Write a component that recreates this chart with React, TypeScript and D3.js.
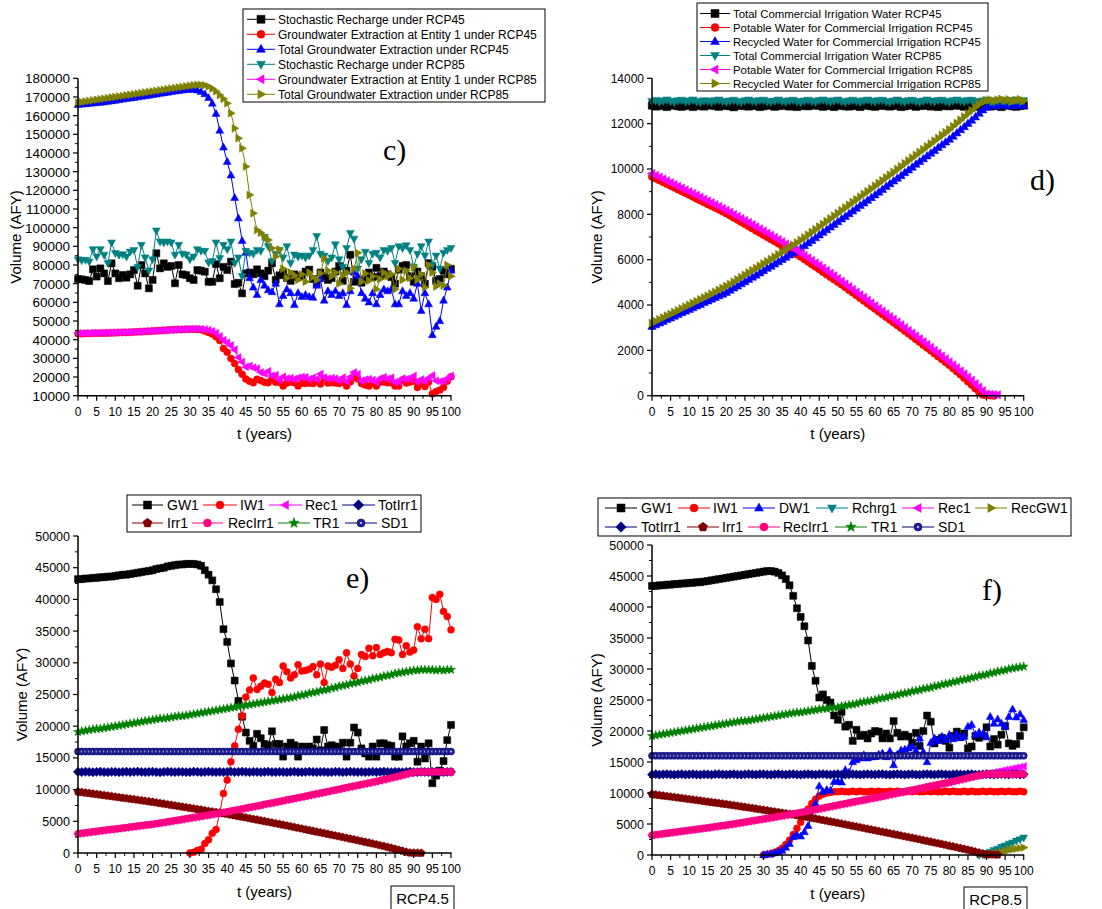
import React from 'react';
import * as d3 from 'd3';

// Simulation years 0..100; every series below holds one value per year,
// in thousand acre-feet per year (null = no value reported that year).
const years = d3.range(0, 101);
const KAF = 1000;

// Tick labels
const xTicks = [0, 5, 10, 15, 20, 25, 30, 35, 40, 45, 50, 55, 60, 65, 70, 75, 80, 85, 90, 95, 100];
const yTicksC = [10000, 20000, 30000, 40000, 50000, 60000, 70000, 80000, 90000, 100000, 110000, 120000, 130000, 140000, 150000, 160000, 170000, 180000];
const yTicksD = [0, 2000, 4000, 6000, 8000, 10000, 12000, 14000];
const yTicksEF = [0, 5000, 10000, 15000, 20000, 25000, 30000, 35000, 40000, 45000, 50000];

// Stochastic recharge
const rechargeRcp45 = [
  72.5, 72.3, 72.0, 71.4, 77.7, 73.8, 78.2, 75.5, 71.4, 80.9,
  75.5, 72.9, 74.7, 73.2, 75.0, 77.3, 68.9, 80.0, 75.5, 67.5,
  72.0, 86.3, 78.2, 80.9, 79.0, 79.5, 70.2, 80.0, 75.0, 74.6,
  72.9, 72.0, 77.3, 77.0, 76.4, 71.0, 71.0, 80.5, 72.9, 79.0,
  77.3, 81.8, 69.8, 70.5, 64.8, 75.5, 76.0, 75.0, 77.7, 75.5,
  74.0, 77.0, 80.9, 72.0, 74.5, 76.0, 73.0, 71.5, 75.0, 73.5,
  74.0, 76.5, 77.5, 72.5, 70.0, 76.0, 74.0, 72.0, 73.0, 76.5,
  79.5, 71.5, 77.0, 85.5, 71.0, 72.0, 70.5, 72.5, 76.0, 73.5,
  78.5, 74.0, 76.5, 75.0, 73.5, 70.0, 77.5, 79.5, 80.0, 74.0,
  71.0, 76.5, 74.0, 70.0, 81.0, 79.0, 71.5, 72.5, 77.0, 75.0,
  78.0,
];
const rechargeRcp85 = [
  83.0, 82.5, 82.7, 81.8, 88.4, 84.5, 88.4, 85.4, 81.0, 92.0,
  86.3, 85.4, 85.7, 84.5, 87.1, 88.0, 78.8, 90.7, 84.0, 77.0,
  83.0, 98.4, 92.5, 92.0, 92.5, 92.0, 85.4, 90.7, 86.0, 85.5,
  83.0, 84.5, 88.4, 87.5, 87.5, 81.3, 82.0, 92.0, 83.6, 90.7,
  88.4, 92.5, 81.0, 84.0, 74.0, 87.5, 86.5, 86.0, 88.0, 87.5,
  95.0, 90.0, 82.0, 86.0, 88.0, 84.0, 90.0, 81.0, 85.5, 84.5,
  85.0, 84.0, 85.0, 88.0, 95.5, 86.0, 85.0, 82.0, 84.0, 91.0,
  83.0, 79.0, 89.0, 97.0, 94.0, 78.0, 83.0, 87.0, 81.0, 86.0,
  86.5, 84.0, 88.0, 87.5, 89.0, 81.0, 90.0, 89.0, 90.5, 88.0,
  79.0, 86.0, 90.0, 85.0, 92.5, 80.0, 85.0, 78.0, 86.5, 88.0,
  89.0,
];

// Total groundwater extraction
const totalGwRcp45 = [
  165.8, 166.0, 166.2, 166.4, 166.6, 166.8, 167.0, 167.2, 167.5, 167.8,
  168.1, 168.4, 168.7, 169.0, 169.3, 169.6, 169.9, 170.2, 170.5, 170.8,
  171.1, 171.4, 171.8, 172.1, 172.4, 172.7, 173.0, 173.3, 173.6, 173.8,
  174.0, 174.0, 173.6, 172.8, 171.5, 169.5, 166.5, 161.0, 152.0, 143.0,
  135.3, 128.0, 116.0, 105.0, 93.0, 86.6, 73.0, 68.0, 64.0, 72.0,
  69.0, 66.5, 65.5, 70.0, 59.0, 63.5, 67.0, 65.0, 58.6, 65.0,
  63.0, 64.0, 63.0, 62.5, 69.0, 72.5, 61.0, 66.0, 64.0, 66.0,
  63.5, 65.0, 58.6, 66.0, 76.0, 74.0, 65.0, 62.0, 60.0, 65.0,
  59.0, 64.0, 67.0, 66.0, 67.0, 59.0, 59.0, 66.0, 63.5, 65.0,
  62.0, 70.0, 55.5, 65.0, 59.0, 42.5, 47.0, 50.0, 61.0, 68.0,
  77.0,
];
const totalGwRcp85 = [
  167.0, 167.3, 167.6, 167.9, 168.2, 168.5, 168.8, 169.1, 169.4, 169.7,
  170.0, 170.3, 170.6, 170.9, 171.2, 171.5, 171.8, 172.1, 172.4, 172.7,
  173.0, 173.3, 173.6, 173.9, 174.2, 174.5, 174.8, 175.1, 175.4, 175.7,
  176.0, 176.3, 176.5, 176.5, 176.3, 175.6, 174.5, 173.0, 171.0, 169.0,
  166.6, 161.3, 153.2, 147.9, 142.5, 132.7, 117.5, 107.7, 98.7, 97.3,
  95.2, 93.4, 89.0, 84.5, 88.4, 78.0, 73.0, 76.0, 74.5, 72.0,
  75.0, 71.0, 76.0, 73.5, 72.0, 75.5, 83.5, 77.0, 74.0, 76.0,
  70.0, 74.5, 76.0, 67.5, 78.0, 86.5, 71.0, 75.5, 71.5, 74.0,
  67.0, 72.5, 76.0, 74.0, 75.0, 67.0, 78.0, 72.0, 77.0, 73.0,
  79.0, 72.0, 75.0, 68.0, 80.0, 76.0, 68.5, 70.0, 69.0, 80.0,
  74.0,
];

// Groundwater extraction at entity 1 (GW1)
const gw1Rcp45 = [
  43.2, 43.2, 43.3, 43.3, 43.4, 43.4, 43.5, 43.5, 43.6, 43.6,
  43.7, 43.8, 43.9, 43.9, 44.0, 44.1, 44.2, 44.3, 44.4, 44.5,
  44.6, 44.8, 44.9, 45.0, 45.2, 45.3, 45.4, 45.5, 45.5, 45.6,
  45.6, 45.6, 45.5, 45.3, 44.6, 43.9, 43.0, 41.6, 39.6, 35.3,
  33.3, 29.9, 27.2, 24.0, 21.5, 19.0, 17.7, 16.9, 18.8, 18.1,
  17.2, 17.0, 19.2, 17.2, 17.2, 15.2, 16.8, 17.4, 17.0, 15.2,
  16.8, 16.6, 16.8, 16.5, 17.9, 16.2, 19.4, 16.8, 17.0, 16.8,
  16.5, 17.4, 15.2, 17.4, 19.8, 19.0, 16.5, 15.7, 15.2, 16.8,
  15.2, 17.3, 17.3, 17.0, 16.9, 15.2, 15.2, 18.4, 16.8, 17.3,
  17.7, 14.4, 16.8, 14.9, 17.3, 11.0, 12.2, 13.0, 14.5, 17.8,
  20.2,
];
const gw1Rcp85 = [
  43.4, 43.4, 43.5, 43.5, 43.6, 43.6, 43.7, 43.7, 43.8, 43.8,
  43.9, 43.9, 44.0, 44.0, 44.1, 44.2, 44.3, 44.4, 44.5, 44.6,
  44.7, 44.8, 44.9, 45.0, 45.1, 45.2, 45.3, 45.4, 45.5, 45.6,
  45.7, 45.8, 45.8, 45.7, 45.5, 45.1, 44.5, 43.5, 41.8, 39.8,
  38.4, 36.9, 34.6, 30.5, 28.1, 25.4, 25.9, 25.0, 24.6, 22.5,
  21.8, 23.1, 20.7, 21.0, 18.4, 20.2, 19.2, 19.4, 18.8, 19.6,
  20.0, 19.9, 18.8, 19.6, 18.8, 21.6, 19.7, 19.1, 19.4, 19.1,
  18.1, 19.7, 17.6, 20.0, 22.5, 21.5, 18.0, 18.6, 18.9, 18.4,
  17.3, 19.2, 19.9, 19.0, 19.6, 17.2, 17.5, 19.2, 18.9, 19.2,
  20.6, 17.5, 18.7, 17.8, 19.4, 20.8, 18.0, 17.6, 17.9, 19.2,
  20.6,
];

// Commercial irrigation: total, potable and recycled supply
const irrTotRcp45 = [
  12.80, 12.76, 12.82, 12.78, 12.74, 12.80, 12.83, 12.77, 12.75, 12.81,
  12.79, 12.74, 12.78, 12.82, 12.76, 12.80, 12.84, 12.78, 12.75, 12.79,
  12.82, 12.77, 12.73, 12.79, 12.83, 12.78, 12.76, 12.81, 12.79, 12.74,
  12.77, 12.82, 12.80, 12.75, 12.78, 12.83, 12.79, 12.76, 12.80, 12.74,
  12.78, 12.82, 12.77, 12.80, 12.84, 12.79, 12.75, 12.81, 12.78, 12.74,
  12.79, 12.83, 12.77, 12.76, 12.81, 12.78, 12.74, 12.80, 12.82, 12.77,
  12.75, 12.79, 12.83, 12.78, 12.76, 12.81, 12.79, 12.74, 12.77, 12.82,
  12.80, 12.75, 12.78, 12.83, 12.79, 12.76, 12.80, 12.74, 12.78, 12.82,
  12.77, 12.80, 12.84, 12.79, 12.75, 12.81, 12.78, 12.74, 12.79, 12.83,
  12.77, 12.76, 12.81, 12.78, 12.74, 12.80, 12.82, 12.77, 12.75, 12.79,
  12.80,
];
const irrTotRcp85 = [
  12.98, 13.03, 12.96, 13.01, 13.05, 12.99, 12.95, 13.02, 13.04, 12.97,
  13.00, 13.05, 12.98, 12.95, 13.02, 13.00, 12.96, 13.03, 13.05, 12.99,
  12.96, 13.01, 13.04, 12.98, 12.95, 13.02, 13.05, 13.00, 12.97, 13.03,
  13.04, 12.98, 12.96, 13.01, 13.05, 12.99, 12.96, 13.02, 13.04, 12.98,
  12.95, 13.01, 13.04, 12.99, 12.96, 13.03, 13.05, 13.00, 12.97, 13.02,
  13.05, 12.98, 12.95, 13.01, 13.04, 12.99, 12.96, 13.02, 13.05, 13.00,
  12.97, 13.03, 13.04, 12.98, 12.95, 13.01, 13.05, 12.99, 12.96, 13.02,
  13.04, 12.98, 12.96, 13.01, 13.05, 13.00, 12.97, 13.03, 13.04, 12.99,
  12.95, 13.02, 13.05, 13.00, 12.97, 13.03, 13.04, 12.98, 12.96, 13.01,
  13.05, 12.99, 12.96, 13.02, 13.04, 13.00, 12.97, 13.03, 13.05, 12.98,
  13.02,
];
const potableRcp45 = [
  9.66, 9.58, 9.50, 9.42, 9.34, 9.26, 9.18, 9.10, 9.02, 8.94,
  8.86, 8.78, 8.69, 8.61, 8.53, 8.45, 8.37, 8.29, 8.21, 8.12,
  8.04, 7.95, 7.85, 7.76, 7.66, 7.57, 7.47, 7.38, 7.28, 7.19,
  7.09, 7.00, 6.90, 6.81, 6.71, 6.61, 6.52, 6.42, 6.32, 6.23,
  6.13, 6.02, 5.91, 5.80, 5.69, 5.58, 5.46, 5.35, 5.24, 5.13,
  5.01, 4.90, 4.78, 4.66, 4.55, 4.43, 4.31, 4.19, 4.07, 3.95,
  3.83, 3.71, 3.59, 3.47, 3.35, 3.23, 3.11, 2.99, 2.86, 2.74,
  2.62, 2.49, 2.37, 2.24, 2.12, 1.99, 1.86, 1.73, 1.61, 1.48,
  1.35, 1.21, 1.07, 0.93, 0.78, 0.63, 0.48, 0.32, 0.16, 0.04,
  0.02, 0.01, 0.00, null, null, null, null, null, null, null,
  null,
];
const potableRcp85 = [
  9.80, 9.72, 9.64, 9.56, 9.48, 9.40, 9.32, 9.24, 9.16, 9.08,
  9.00, 8.92, 8.84, 8.76, 8.67, 8.59, 8.51, 8.43, 8.35, 8.26,
  8.18, 8.09, 8.00, 7.91, 7.82, 7.73, 7.64, 7.55, 7.45, 7.36,
  7.27, 7.17, 7.08, 6.98, 6.89, 6.79, 6.69, 6.59, 6.50, 6.40,
  6.30, 6.19, 6.08, 5.97, 5.86, 5.75, 5.63, 5.52, 5.40, 5.29,
  5.17, 5.05, 4.93, 4.81, 4.69, 4.57, 4.45, 4.33, 4.21, 4.09,
  3.97, 3.85, 3.73, 3.61, 3.49, 3.37, 3.25, 3.13, 3.00, 2.88,
  2.76, 2.63, 2.51, 2.38, 2.26, 2.13, 2.00, 1.88, 1.75, 1.62,
  1.49, 1.36, 1.23, 1.09, 0.96, 0.82, 0.68, 0.53, 0.38, 0.22,
  0.08, 0.06, 0.05, 0.04, null, null, null, null, null, null,
  null,
];
const recycledRcp45 = [
  3.05, 3.12, 3.20, 3.27, 3.35, 3.42, 3.50, 3.57, 3.65, 3.72,
  3.80, 3.87, 3.95, 4.02, 4.10, 4.17, 4.25, 4.32, 4.40, 4.47,
  4.55, 4.64, 4.74, 4.83, 4.93, 5.02, 5.12, 5.22, 5.31, 5.41,
  5.51, 5.61, 5.70, 5.80, 5.90, 6.00, 6.10, 6.20, 6.30, 6.40,
  6.50, 6.61, 6.73, 6.84, 6.96, 7.08, 7.20, 7.31, 7.43, 7.55,
  7.67, 7.79, 7.90, 8.02, 8.14, 8.26, 8.38, 8.49, 8.61, 8.73,
  8.85, 8.97, 9.09, 9.22, 9.34, 9.46, 9.58, 9.70, 9.83, 9.95,
  10.07, 10.20, 10.32, 10.44, 10.57, 10.69, 10.81, 10.94, 11.06, 11.18,
  11.30, 11.44, 11.58, 11.72, 11.86, 12.00, 12.14, 12.29, 12.45, 12.60,
  12.72, 12.78, 12.80, 12.78, 12.82, 12.79, 12.81, 12.78, 12.80, 12.82,
  12.79,
];
const recycledRcp85 = [
  3.20, 3.28, 3.36, 3.44, 3.52, 3.60, 3.68, 3.76, 3.84, 3.92,
  4.00, 4.08, 4.16, 4.24, 4.32, 4.40, 4.49, 4.57, 4.66, 4.74,
  4.83, 4.92, 5.02, 5.12, 5.22, 5.32, 5.42, 5.52, 5.62, 5.72,
  5.82, 5.92, 6.02, 6.12, 6.23, 6.33, 6.44, 6.54, 6.65, 6.75,
  6.86, 6.97, 7.09, 7.21, 7.33, 7.45, 7.57, 7.69, 7.81, 7.93,
  8.05, 8.17, 8.29, 8.41, 8.53, 8.65, 8.77, 8.89, 9.01, 9.13,
  9.25, 9.37, 9.49, 9.62, 9.74, 9.86, 9.99, 10.11, 10.24, 10.36,
  10.49, 10.61, 10.74, 10.86, 10.99, 11.11, 11.24, 11.36, 11.49, 11.61,
  11.74, 11.88, 12.02, 12.16, 12.30, 12.44, 12.58, 12.72, 12.85, 12.96,
  13.02, 13.05, 13.00, 13.04, 13.08, 13.02, 13.06, 12.99, 13.03, 13.07,
  13.01,
];

// Entity 1 balance terms, RCP4.5
const iw1Rcp45 = [
  null, null, null, null, null, null, null, null, null, null,
  null, null, null, null, null, null, null, null, null, null,
  null, null, null, null, null, null, null, null, null, null,
  0.0, 0.1, 0.4, 0.6, 1.5, 2.1, 3.1, 3.7, 6.4, 9.4,
  11.5, 14.4, 16.9, 19.5, 21.6, 24.6, 25.7, 27.6, 25.8, 26.3,
  26.8, 26.6, 25.3, 27.4, 26.9, 29.5, 28.6, 27.6, 28.1, 29.7,
  28.7, 28.8, 29.0, 29.4, 28.1, 29.8, 26.9, 29.5, 29.3, 29.6,
  30.5, 29.1, 31.6, 29.8, 27.9, 29.1, 31.3, 31.0, 32.3, 31.1,
  32.4, 31.3, 31.6, 31.8, 31.6, 33.7, 33.6, 31.3, 32.7, 31.7,
  32.0, 35.7, 33.8, 35.3, 33.8, 40.3, 40.0, 40.8, 38.1, 37.3,
  35.2,
];
const rec1Rcp45 = recycledRcp45; // recycled supply equals recycled irrigation in this scenario
const trRcp45 = [
  19.1, 19.2, 19.3, 19.4, 19.5, 19.6, 19.6, 19.7, 19.8, 19.9,
  20.0, 20.1, 20.2, 20.3, 20.4, 20.5, 20.6, 20.7, 20.8, 20.9,
  21.0, 21.1, 21.2, 21.2, 21.3, 21.4, 21.5, 21.6, 21.6, 21.7,
  21.8, 21.9, 22.0, 22.1, 22.2, 22.3, 22.4, 22.5, 22.6, 22.7,
  22.8, 22.9, 23.0, 23.1, 23.2, 23.3, 23.4, 23.5, 23.6, 23.7,
  23.8, 23.9, 24.0, 24.1, 24.2, 24.3, 24.4, 24.5, 24.6, 24.8,
  24.9, 25.0, 25.2, 25.3, 25.4, 25.6, 25.7, 25.8, 26.0, 26.1,
  26.3, 26.4, 26.5, 26.7, 26.8, 26.9, 27.1, 27.2, 27.3, 27.5,
  27.6, 27.7, 27.9, 28.0, 28.1, 28.3, 28.4, 28.5, 28.6, 28.7,
  28.8, 28.8, 28.9, 28.9, 28.9, 28.9, 28.8, 28.9, 28.8, 28.9,
  28.9,
];
const sd1 = [
  16, 16, 16, 16, 16, 16, 16, 16, 16, 16,
  16, 16, 16, 16, 16, 16, 16, 16, 16, 16,
  16, 16, 16, 16, 16, 16, 16, 16, 16, 16,
  16, 16, 16, 16, 16, 16, 16, 16, 16, 16,
  16, 16, 16, 16, 16, 16, 16, 16, 16, 16,
  16, 16, 16, 16, 16, 16, 16, 16, 16, 16,
  16, 16, 16, 16, 16, 16, 16, 16, 16, 16,
  16, 16, 16, 16, 16, 16, 16, 16, 16, 16,
  16, 16, 16, 16, 16, 16, 16, 16, 16, 16,
  16, 16, 16, 16, 16, 16, 16, 16, 16, 16,
  16,
];

// Entity 1 balance terms, RCP8.5
const iw1Rcp85 = [
  null, null, null, null, null, null, null, null, null, null,
  null, null, null, null, null, null, null, null, null, null,
  null, null, null, null, null, null, null, null, null, null,
  0.0, 0.1, 0.2, 0.4, 0.7, 1.1, 1.7, 2.4, 3.3, 4.3,
  5.3, 6.4, 7.4, 8.3, 9.0, 9.5, 9.8, 10.0, 10.1, 10.2,
  10.2, 10.3, 10.2, 10.2, 10.3, 10.2, 10.3, 10.2, 10.2, 10.3,
  10.2, 10.3, 10.2, 10.2, 10.3, 10.2, 10.3, 10.2, 10.2, 10.3,
  10.2, 10.3, 10.2, 10.2, 10.3, 10.2, 10.3, 10.2, 10.2, 10.3,
  10.2, 10.3, 10.2, 10.2, 10.3, 10.2, 10.3, 10.2, 10.2, 10.3,
  10.2, 10.3, 10.2, 10.2, 10.3, 10.2, 10.3, 10.2, 10.2, 10.3,
  10.2,
];
const dw1Rcp85 = [
  null, null, null, null, null, null, null, null, null, null,
  null, null, null, null, null, null, null, null, null, null,
  null, null, null, null, null, null, null, null, null, null,
  0.0, 0.1, 0.2, 0.3, 0.5, 0.7, 1.2, 1.8, 2.9, 3.2,
  3.0, 3.7, 4.7, 6.1, 8.3, 11.1, 10.2, 10.5, 10.4, 11.8,
  11.9, 11.7, 13.7, 13.3, 15.0, 15.3, 15.6, 16.1, 15.6, 15.8,
  15.8, 16.2, 16.4, 15.8, 16.7, 14.5, 16.2, 16.9, 17.0, 17.2,
  17.5, 16.8, 18.8, 16.6, 15.0, 18.1, 18.8, 18.4, 19.1, 18.6,
  19.4, 18.7, 19.5, 18.9, 19.1, 20.7, 21.0, 19.4, 19.8, 19.5,
  19.0, 22.3, 21.2, 21.9, 21.2, 20.7, 22.3, 23.5, 22.2, 22.7,
  21.8,
];
const rchrg1Rcp85 = [
  null, null, null, null, null, null, null, null, null, null,
  null, null, null, null, null, null, null, null, null, null,
  null, null, null, null, null, null, null, null, null, null,
  null, null, null, null, null, null, null, null, null, null,
  null, null, null, null, null, null, null, null, null, null,
  null, null, null, null, null, null, null, null, null, null,
  null, null, null, null, null, null, null, null, null, null,
  null, null, null, null, null, null, null, null, null, null,
  null, null, null, null, null, null, null, null, 0.0, 0.1,
  0.3, 0.5, 0.8, 1.0, 1.3, 1.5, 1.8, 2.0, 2.3, 2.5,
  2.8,
];
const recGw1Rcp85 = [
  null, null, null, null, null, null, null, null, null, null,
  null, null, null, null, null, null, null, null, null, null,
  null, null, null, null, null, null, null, null, null, null,
  null, null, null, null, null, null, null, null, null, null,
  null, null, null, null, null, null, null, null, null, null,
  null, null, null, null, null, null, null, null, null, null,
  null, null, null, null, null, null, null, null, null, null,
  null, null, null, null, null, null, null, null, null, null,
  null, null, null, null, null, null, null, null, null, null,
  0.0, 0.1, 0.2, 0.3, 0.5, 0.6, 0.8, 0.9, 1.0, 1.1,
  1.2,
];
const rec1Rcp85 = [
  3.20, 3.28, 3.36, 3.44, 3.52, 3.60, 3.68, 3.76, 3.84, 3.92,
  4.00, 4.08, 4.16, 4.24, 4.32, 4.40, 4.49, 4.57, 4.66, 4.74,
  4.83, 4.92, 5.02, 5.12, 5.22, 5.32, 5.42, 5.52, 5.62, 5.72,
  5.82, 5.92, 6.02, 6.12, 6.23, 6.33, 6.44, 6.54, 6.65, 6.75,
  6.86, 6.97, 7.09, 7.21, 7.33, 7.45, 7.57, 7.69, 7.81, 7.93,
  8.05, 8.17, 8.29, 8.41, 8.53, 8.65, 8.77, 8.89, 9.01, 9.13,
  9.25, 9.37, 9.49, 9.62, 9.74, 9.86, 9.99, 10.11, 10.24, 10.36,
  10.49, 10.61, 10.74, 10.86, 10.99, 11.11, 11.24, 11.36, 11.49, 11.61,
  11.74, 11.88, 12.02, 12.16, 12.30, 12.44, 12.58, 12.72, 12.85, 12.97,
  13.09, 13.21, 13.33, 13.45, 13.57, 13.69, 13.81, 13.93, 14.05, 14.17,
  14.29,
];
const trRcp85 = [
  19.2, 19.3, 19.4, 19.5, 19.6, 19.7, 19.8, 19.9, 20.0, 20.1,
  20.2, 20.3, 20.4, 20.5, 20.6, 20.7, 20.8, 20.9, 21.0, 21.1,
  21.2, 21.3, 21.4, 21.5, 21.6, 21.6, 21.7, 21.8, 21.9, 22.0,
  22.1, 22.2, 22.3, 22.4, 22.5, 22.6, 22.7, 22.8, 22.9, 23.0,
  23.0, 23.1, 23.2, 23.3, 23.4, 23.5, 23.6, 23.6, 23.7, 23.8,
  23.8, 24.0, 24.1, 24.2, 24.3, 24.4, 24.6, 24.7, 24.8, 24.9,
  25.0, 25.2, 25.3, 25.4, 25.6, 25.7, 25.8, 26.0, 26.1, 26.2,
  26.4, 26.5, 26.6, 26.8, 26.9, 27.0, 27.2, 27.3, 27.5, 27.6,
  27.7, 27.9, 28.0, 28.2, 28.3, 28.4, 28.6, 28.7, 28.9, 29.0,
  29.1, 29.3, 29.4, 29.6, 29.7, 29.8, 30.0, 30.1, 30.2, 30.3,
  30.4,
];

type Shape = 'square' | 'circle' | 'triUp' | 'triDown' | 'triLeft' | 'triRight' | 'diamond' | 'pentagon' | 'star' | 'circleDot';
type Val = number | null;
interface Series { name: string; values: Val[]; color: string; shape: Shape; }

const SANS = "'Liberation Sans', Arial, Helvetica, sans-serif";
const SERIF = "'Liberation Serif', 'Times New Roman', serif";

function poly(pts: [number, number][]): string {
  return 'M' + pts.map(p => `${p[0].toFixed(2)},${p[1].toFixed(2)}`).join('L') + 'Z';
}

function markerPath(shape: Shape, s: number): string {
  const h = s / 2;
  switch (shape) {
    case 'square': return poly([[-h, -h], [h, -h], [h, h], [-h, h]]);
    case 'circle':
    case 'circleDot': return `M${h},0A${h},${h} 0 1,1 ${-h},0A${h},${h} 0 1,1 ${h},0Z`;
    case 'triUp': return poly([[0, -0.62 * s], [0.56 * s, 0.38 * s], [-0.56 * s, 0.38 * s]]);
    case 'triDown': return poly([[0, 0.62 * s], [0.56 * s, -0.38 * s], [-0.56 * s, -0.38 * s]]);
    case 'triLeft': return poly([[-0.62 * s, 0], [0.38 * s, -0.56 * s], [0.38 * s, 0.56 * s]]);
    case 'triRight': return poly([[0.62 * s, 0], [-0.38 * s, -0.56 * s], [-0.38 * s, 0.56 * s]]);
    case 'diamond': return poly([[0, -0.66 * s], [0.66 * s, 0], [0, 0.66 * s], [-0.66 * s, 0]]);
    case 'pentagon': {
      const pts: [number, number][] = d3.range(5).map(k => {
        const a = -Math.PI / 2 + (k * 2 * Math.PI) / 5;
        return [0.6 * s * Math.cos(a), 0.6 * s * Math.sin(a)];
      });
      return poly(pts);
    }
    case 'star': {
      const pts: [number, number][] = d3.range(10).map(k => {
        const a = -Math.PI / 2 + (k * Math.PI) / 5;
        const r = k % 2 === 0 ? 0.68 * s : 0.28 * s;
        return [r * Math.cos(a), r * Math.sin(a)];
      });
      return poly(pts);
    }
  }
  return '';
}

function Marker({ shape, color, s, x, y }: { shape: Shape; color: string; s: number; x: number; y: number }) {
  if (shape === 'circleDot') {
    return (
      <g transform={`translate(${x},${y})`}>
        <path d={markerPath('circle', s)} fill="#22228f" stroke={color} strokeWidth={0.6} />
        <circle r={s * 0.14} fill="#d8d8ff" />
      </g>
    );
  }
  return <path transform={`translate(${x},${y})`} d={markerPath(shape, s)} fill={color} stroke={color} strokeWidth={0.5} />;
}

interface PanelSpec {
  left: number; right: number; top: number; bottom: number;
  yDomain: [number, number];
  yTicks: number[];
  series: Series[];
  markerSize: number;
  xTickFont: number;
  yTickFont: number;
  yTitleX: number;
  xTitleY: number;
}

function Panel({ p }: { p: PanelSpec }) {
  const x = d3.scaleLinear().domain([0, 100]).range([p.left, p.right]);
  const y = d3.scaleLinear().domain(p.yDomain).range([p.bottom, p.top]);
  const line = d3.line<[number, Val]>()
    .defined(d => d[1] !== null)
    .x(d => x(d[0]))
    .y(d => y((d[1] as number) * KAF));
  const xMinor = d3.pairs(xTicks).map(([a, b]) => (a + b) / 2);
  const yMinor = d3.pairs(p.yTicks).map(([a, b]) => (a + b) / 2);
  const fmt = d3.format('d');
  return (
    <g>
      {p.series.map((s, si) => {
        const pts: [number, Val][] = years.map((t, i) => [t, s.values[i] ?? null]);
        return (
          <g key={si}>
            <path d={line(pts) ?? ''} fill="none" stroke={s.color} strokeWidth={1} />
            {pts.filter(d => d[1] !== null).map(d => (
              <Marker key={d[0]} shape={s.shape} color={s.color} s={p.markerSize} x={x(d[0])} y={y((d[1] as number) * KAF)} />
            ))}
          </g>
        );
      })}
      <line x1={p.left} x2={p.right + 0.5} y1={p.bottom} y2={p.bottom} stroke="#000" strokeWidth={1.5} />
      <line x1={p.left} x2={p.left} y1={p.bottom + 0.5} y2={p.top} stroke="#000" strokeWidth={1.5} />
      {xTicks.map(t => (
        <g key={'xt' + t}>
          <line x1={x(t)} x2={x(t)} y1={p.bottom} y2={p.bottom + 5} stroke="#000" strokeWidth={1.2} />
          <text x={x(t)} y={p.bottom + 20} textAnchor="middle" fontFamily={SANS} fontSize={p.xTickFont}>{t}</text>
        </g>
      ))}
      {xMinor.map(t => (
        <line key={'xm' + t} x1={x(t)} x2={x(t)} y1={p.bottom} y2={p.bottom + 3} stroke="#000" strokeWidth={1} />
      ))}
      {p.yTicks.map(v => (
        <g key={'yt' + v}>
          <line x1={p.left - 5} x2={p.left} y1={y(v)} y2={y(v)} stroke="#000" strokeWidth={1.2} />
          <text x={p.left - 8} y={y(v)} dy="0.36em" textAnchor="end" fontFamily={SANS} fontSize={p.yTickFont}>{fmt(v)}</text>
        </g>
      ))}
      {yMinor.map(v => (
        <line key={'ym' + v} x1={p.left - 3} x2={p.left} y1={y(v)} y2={y(v)} stroke="#000" strokeWidth={1} />
      ))}
      <text transform={`translate(${p.yTitleX},${(p.top + p.bottom) / 2}) rotate(-90)`} textAnchor="middle" fontFamily={SANS} fontSize={15}>Volume (AFY)</text>
      <text x={(p.left + p.right) / 2} y={p.xTitleY} textAnchor="middle" fontFamily={SANS} fontSize={15}>t (years)</text>
    </g>
  );
}

interface LegendItem { s: Series; x1: number; x2: number; tx: number; y: number; }

function Legend({ box, items, font, ms }: { box: [number, number, number, number]; items: LegendItem[]; font: number; ms: number }) {
  return (
    <g>
      <rect x={box[0]} y={box[1]} width={box[2] - box[0]} height={box[3] - box[1]} fill="#fff" stroke="#000" strokeWidth={1} />
      {items.map((it, i) => (
        <g key={i}>
          <line x1={it.x1} x2={it.x2} y1={it.y} y2={it.y} stroke={it.s.color} strokeWidth={1} />
          <Marker shape={it.s.shape} color={it.s.color} s={ms} x={(it.x1 + it.x2) / 2} y={it.y} />
          <text x={it.tx} y={it.y} dy="0.36em" fontFamily={SANS} fontSize={font}>{it.s.name}</text>
        </g>
      ))}
    </g>
  );
}

const seriesC: Series[] = [
  { name: 'Stochastic Recharge under RCP45', values: rechargeRcp45, color: '#000000', shape: 'square' },
  { name: 'Groundwater Extraction at Entity 1 under RCP45', values: gw1Rcp45, color: '#FF0000', shape: 'circle' },
  { name: 'Total Groundwater Extraction under RCP45', values: totalGwRcp45, color: '#0000FF', shape: 'triUp' },
  { name: 'Stochastic Recharge under RCP85', values: rechargeRcp85, color: '#008080', shape: 'triDown' },
  { name: 'Groundwater Extraction at Entity 1 under RCP85', values: gw1Rcp85, color: '#FF00FF', shape: 'triLeft' },
  { name: 'Total Groundwater Extraction under RCP85', values: totalGwRcp85, color: '#808000', shape: 'triRight' },
];
const seriesD: Series[] = [
  { name: 'Total Commercial Irrigation Water RCP45', values: irrTotRcp45, color: '#000000', shape: 'square' },
  { name: 'Potable Water for Commercial Irrigation RCP45', values: potableRcp45, color: '#FF0000', shape: 'circle' },
  { name: 'Recycled Water for Commercial Irrigation RCP45', values: recycledRcp45, color: '#0000FF', shape: 'triUp' },
  { name: 'Total Commercial Irrigation Water RCP85', values: irrTotRcp85, color: '#008080', shape: 'triDown' },
  { name: 'Potable Water for Commercial Irrigation RCP85', values: potableRcp85, color: '#FF00FF', shape: 'triLeft' },
  { name: 'Recycled Water for Commercial Irrigation RCP85', values: recycledRcp85, color: '#808000', shape: 'triRight' },
];

const GW1_45: Series = { name: 'GW1', values: gw1Rcp45, color: '#000000', shape: 'square' };
const IW1_45: Series = { name: 'IW1', values: iw1Rcp45, color: '#FF0000', shape: 'circle' };
const REC1_45: Series = { name: 'Rec1', values: rec1Rcp45, color: '#FF00FF', shape: 'triLeft' };
const TOT_45: Series = { name: 'TotIrr1', values: irrTotRcp45, color: '#000080', shape: 'diamond' };
const IRR_45: Series = { name: 'Irr1', values: potableRcp45, color: '#800000', shape: 'pentagon' };
const RECIRR_45: Series = { name: 'RecIrr1', values: recycledRcp45, color: '#FF0080', shape: 'circle' };
const TR_45: Series = { name: 'TR1', values: trRcp45, color: '#008000', shape: 'star' };
const SD_45: Series = { name: 'SD1', values: sd1, color: '#000080', shape: 'circleDot' };
const seriesE: Series[] = [GW1_45, IW1_45, REC1_45, TOT_45, IRR_45, RECIRR_45, TR_45, SD_45];

const GW1_85: Series = { name: 'GW1', values: gw1Rcp85, color: '#000000', shape: 'square' };
const IW1_85: Series = { name: 'IW1', values: iw1Rcp85, color: '#FF0000', shape: 'circle' };
const DW1_85: Series = { name: 'DW1', values: dw1Rcp85, color: '#0000FF', shape: 'triUp' };
const RCH_85: Series = { name: 'Rchrg1', values: rchrg1Rcp85, color: '#008080', shape: 'triDown' };
const REC1_85: Series = { name: 'Rec1', values: rec1Rcp85, color: '#FF00FF', shape: 'triLeft' };
const RECGW_85: Series = { name: 'RecGW1', values: recGw1Rcp85, color: '#808000', shape: 'triRight' };
const TOT_85: Series = { name: 'TotIrr1', values: irrTotRcp85, color: '#000080', shape: 'diamond' };
const IRR_85: Series = { name: 'Irr1', values: potableRcp85, color: '#800000', shape: 'pentagon' };
const RECIRR_85: Series = { name: 'RecIrr1', values: recycledRcp85, color: '#FF0080', shape: 'circle' };
const TR_85: Series = { name: 'TR1', values: trRcp85, color: '#008000', shape: 'star' };
const SD_85: Series = { name: 'SD1', values: sd1, color: '#000080', shape: 'circleDot' };
const seriesF: Series[] = [GW1_85, IW1_85, DW1_85, RCH_85, REC1_85, RECGW_85, TOT_85, IRR_85, RECIRR_85, TR_85, SD_85];

const panelC: PanelSpec = { left: 78, right: 451, top: 78.3, bottom: 395.7, yDomain: [10000, 180000], yTicks: yTicksC, series: seriesC, markerSize: 7, xTickFont: 12, yTickFont: 13.5, yTitleX: 21, xTitleY: 439 };
const panelD: PanelSpec = { left: 652, right: 1023.7, top: 78.3, bottom: 395.7, yDomain: [0, 14000], yTicks: yTicksD, series: seriesD, markerSize: 7.5, xTickFont: 12, yTickFont: 12, yTitleX: 602, xTitleY: 439 };
const panelE: PanelSpec = { left: 78, right: 451, top: 536, bottom: 853, yDomain: [0, 50000], yTicks: yTicksEF, series: seriesE, markerSize: 7, xTickFont: 12, yTickFont: 12.5, yTitleX: 27, xTitleY: 897 };
const panelF: PanelSpec = { left: 652, right: 1023.7, top: 545, bottom: 855, yDomain: [0, 50000], yTicks: yTicksEF, series: seriesF, markerSize: 7, xTickFont: 12, yTickFont: 12.5, yTitleX: 602, xTitleY: 899 };

export default function App() {
  const legC: LegendItem[] = seriesC.map((s, i) => ({ s, x1: 247, x2: 275, tx: 278, y: 19.3 + 15 * i }));
  const legD: LegendItem[] = seriesD.map((s, i) => ({ s, x1: 700, x2: 730, tx: 733, y: 13.5 + 14 * i }));
  const legE: LegendItem[] = [
    { s: GW1_45, x1: 132, x2: 163, tx: 167, y: 505 },
    { s: IW1_45, x1: 203, x2: 237, tx: 240, y: 505 },
    { s: REC1_45, x1: 269, x2: 302, tx: 305, y: 505 },
    { s: TOT_45, x1: 342, x2: 375, tx: 378, y: 505 },
    { s: IRR_45, x1: 132, x2: 163, tx: 167, y: 523 },
    { s: RECIRR_45, x1: 192, x2: 223, tx: 228, y: 523 },
    { s: TR_45, x1: 278, x2: 310, tx: 313, y: 523 },
    { s: SD_45, x1: 345, x2: 377, tx: 381, y: 523 },
  ];
  const legF: LegendItem[] = [
    { s: GW1_85, x1: 605, x2: 637, tx: 641, y: 508 },
    { s: IW1_85, x1: 678, x2: 710, tx: 713, y: 508 },
    { s: DW1_85, x1: 743, x2: 775, tx: 779, y: 508 },
    { s: RCH_85, x1: 816, x2: 848, tx: 852, y: 508 },
    { s: REC1_85, x1: 902, x2: 934, tx: 938, y: 508 },
    { s: RECGW_85, x1: 975, x2: 1007, tx: 1011, y: 508 },
    { s: TOT_85, x1: 605, x2: 637, tx: 641, y: 527 },
    { s: IRR_85, x1: 687, x2: 719, tx: 722, y: 527 },
    { s: RECIRR_85, x1: 748, x2: 780, tx: 783, y: 527 },
    { s: TR_85, x1: 835, x2: 867, tx: 871, y: 527 },
    { s: SD_85, x1: 902, x2: 934, tx: 938, y: 527 },
  ];
  return (
    <svg width={1102} height={909} style={{ position: 'absolute', left: 0, top: 0, background: '#fff' }}>
      <rect width={1102} height={909} fill="#fff" />
      <Panel p={panelC} />
      <Panel p={panelD} />
      <Panel p={panelE} />
      <Panel p={panelF} />
      <Legend box={[243, 9, 545, 102]} items={legC} font={12} ms={8} />
      <Legend box={[697, 3, 988, 91]} items={legD} font={11.4} ms={8} />
      <Legend box={[127, 495, 421, 532]} items={legE} font={14} ms={8} />
      <Legend box={[598, 498, 1071, 536]} items={legF} font={14} ms={8} />
      <text x={383} y={160} fontFamily={SERIF} fontSize={30}>c)</text>
      <text x={1030} y={190} fontFamily={SERIF} fontSize={30}>d)</text>
      <text x={346} y={588} fontFamily={SERIF} fontSize={30}>e)</text>
      <text x={982} y={600} fontFamily={SERIF} fontSize={30}>f)</text>
      <rect x={391} y={886} width={63} height={30} fill="#fff" stroke="#000" strokeWidth={1} />
      <text x={422.5} y={904} textAnchor="middle" fontFamily={SANS} fontSize={15}>RCP4.5</text>
      <rect x={964} y={887} width={63} height={30} fill="#fff" stroke="#000" strokeWidth={1} />
      <text x={995.5} y={905} textAnchor="middle" fontFamily={SANS} fontSize={15}>RCP8.5</text>
    </svg>
  );
}
